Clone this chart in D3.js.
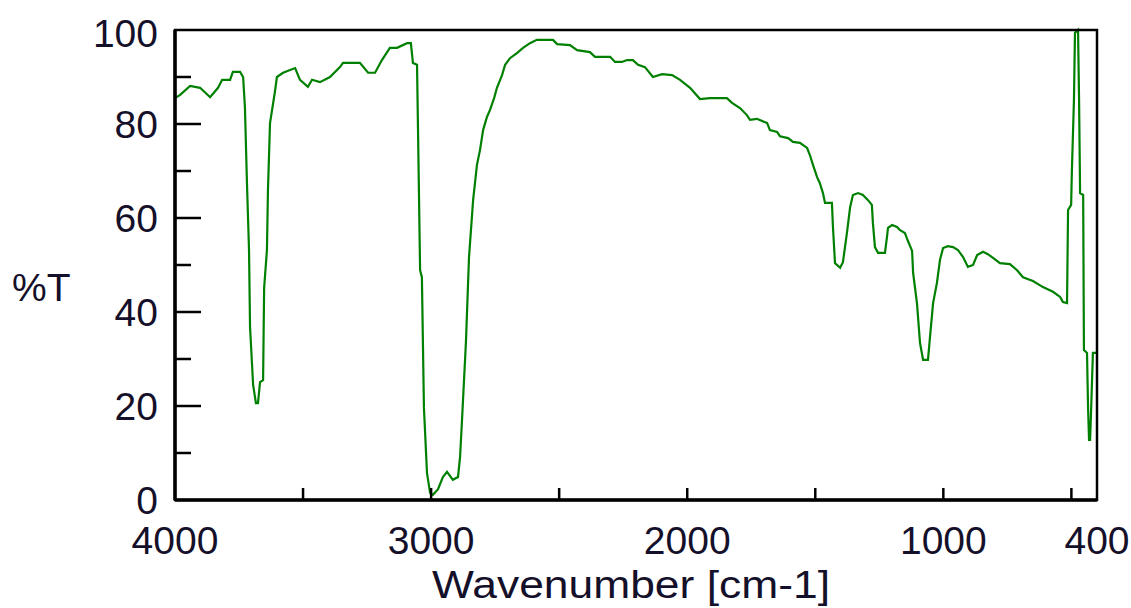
<!DOCTYPE html>
<html>
<head>
<meta charset="utf-8">
<script src="https://cdn.jsdelivr.net/npm/d3@7"></script>
<style>
  body { margin: 0; background: #fff; }
  svg { display: block; }
  text { font-family: "Liberation Sans", Arial, sans-serif; fill: #15102a; }
</style>
</head>
<body>
<svg id="chart" width="1131" height="608"></svg>
<script>
// IR spectrum
var wavenumber = [
  4000, 3980, 3941, 3902, 3863, 3832, 3816, 3785, 3774, 3746, 3734, 3727, 3719, 3711, 3707, 3695,
  3684, 3676, 3668, 3656, 3652, 3641, 3637, 3629, 3610, 3602, 3578, 3531, 3512, 3481, 3465, 3434,
  3395, 3356, 3344, 3278, 3246, 3219, 3192, 3161, 3133, 3094, 3079, 3071, 3055, 3051, 3043, 3036,
  3028, 3016, 3004, 2993, 2973, 2954, 2938, 2915, 2895, 2887, 2879, 2864, 2852, 2836, 2821, 2809,
  2797, 2782, 2770, 2754, 2743, 2723, 2711, 2692, 2665, 2641, 2614, 2587, 2524, 2508, 2458, 2430,
  2380, 2360, 2301, 2282, 2255, 2235, 2212, 2192, 2165, 2134, 2098, 2059, 2028, 1989, 1950, 1911,
  1845, 1825, 1794, 1767, 1755, 1728, 1688, 1677, 1649, 1638, 1606, 1587, 1560, 1532, 1521, 1509,
  1493, 1482, 1470, 1462, 1435, 1431, 1423, 1403, 1392, 1376, 1364, 1353, 1333, 1314, 1294, 1279,
  1275, 1267, 1255, 1228, 1220, 1216, 1200, 1181, 1169, 1150, 1138, 1122, 1118, 1103, 1091, 1079,
  1060, 1052, 1040, 1025, 1013, 1001, 982, 962, 943, 923, 904, 884, 868, 845, 826, 806,
  779, 740, 712, 689, 650, 611, 572, 544, 533, 517, 513, 501, 498, 490, 486, 474,
  470, 466, 454, 451, 439, 435, 431, 427, 423, 416, 400
]
var transmittance = [
  85.5, 86.2, 88.1, 87.7, 85.7, 87.7, 89.4, 89.4, 91.1, 91.1, 90.0, 83.6, 67.4, 53.2, 36.8, 24.5,
  20.6, 20.6, 25.1, 25.5, 45.1, 53.2, 66.0, 80.2, 86.8, 90.0, 90.9, 91.9, 89.4, 87.9, 89.4, 88.9,
  90.0, 92.1, 93.0, 93.0, 90.9, 90.9, 93.6, 96.2, 96.2, 97.2, 97.2, 93.0, 92.6, 78.3, 48.9, 47.4,
  19.6, 5.7, 1.5, 1.1, 2.3, 4.9, 6.0, 4.3, 4.9, 9.1, 17.4, 33.6, 51.7, 63.8, 71.3, 74.5,
  78.7, 81.5, 83.0, 85.5, 87.7, 90.4, 92.6, 94.0, 95.1, 96.2, 97.2, 97.9, 97.9, 97.0, 96.8, 95.7,
  95.3, 94.3, 94.3, 93.2, 93.2, 93.6, 93.6, 92.6, 92.1, 90.0, 90.6, 90.4, 89.4, 87.7, 85.3, 85.5,
  85.5, 84.5, 83.4, 81.9, 80.9, 81.1, 80.2, 78.7, 78.3, 77.4, 77.0, 76.2, 76.0, 74.9, 73.4, 71.3,
  68.7, 67.4, 65.3, 63.2, 63.2, 58.1, 50.4, 49.4, 50.6, 57.0, 62.3, 64.9, 65.3, 64.9, 63.8, 62.8,
  58.9, 53.8, 52.6, 52.6, 56.0, 57.9, 58.5, 58.1, 57.4, 56.8, 55.1, 53.0, 48.3, 41.9, 33.4, 29.8,
  29.8, 34.7, 41.9, 46.2, 51.1, 53.6, 54.0, 53.8, 53.2, 51.7, 49.6, 50.0, 52.1, 52.8, 52.3, 51.5,
  50.4, 50.2, 48.9, 47.4, 46.6, 45.3, 44.3, 43.2, 42.1, 41.9, 61.7, 62.8, 70.2, 85.1, 99.4, 100,
  85.1, 65.3, 64.9, 31.9, 31.3, 19.8, 12.8, 12.8, 19.1, 31.3, 31.3
]

var xTickLabels = [4000, 3000, 2000, 1000, 400]
var xMinorTicks = [3500, 3000, 2500, 2000, 1500, 1000, 500]
var yTickLabels = [0, 20, 40, 60, 80, 100]
var yMinorTicks = [10, 30, 50, 70, 90]

var plotLeft = 175, plotRight = 1097, plotTop = 30, plotBottom = 500

var svg = d3.select("#chart")

var x = d3.scaleLinear().domain([4000, 400]).range([plotLeft, plotRight])
var y = d3.scaleLinear().domain([0, 100]).range([plotBottom, plotTop])

var data = wavenumber.map((w, i) => ({ w: w, t: transmittance[i] }))

// spectrum line
var line = d3.line()
    .x(d => x(d.w))
    .y(d => y(d.t))

svg.append("path")
    .datum(data)
    .attr("d", line)
    .attr("fill", "none")
    .attr("stroke", "#008000")
    .attr("stroke-width", 2.2)
    .attr("stroke-linejoin", "miter")

// frame
svg.append("rect")
    .attr("x", plotLeft)
    .attr("y", plotTop)
    .attr("width", plotRight - plotLeft)
    .attr("height", plotBottom - plotTop)
    .attr("fill", "none")
    .attr("stroke", "#000")
    .attr("stroke-width", 2.5)

svg.append("line")
    .attr("x1", plotLeft).attr("x2", plotLeft)
    .attr("y1", plotTop).attr("y2", plotBottom)
    .attr("stroke", "#000").attr("stroke-width", 3.5)

svg.append("line")
    .attr("x1", plotLeft).attr("x2", plotRight)
    .attr("y1", plotBottom).attr("y2", plotBottom)
    .attr("stroke", "#000").attr("stroke-width", 3.5)

// x ticks, pointing inside
svg.selectAll(".xtick")
    .data(xMinorTicks)
    .enter().append("line")
    .attr("class", "xtick")
    .attr("x1", d => x(d)).attr("x2", d => x(d))
    .attr("y1", plotBottom).attr("y2", plotBottom - 12)
    .attr("stroke", "#000").attr("stroke-width", 2.5)

svg.selectAll(".xlabel")
    .data(xTickLabels)
    .enter().append("text")
    .attr("class", "xlabel")
    .attr("x", d => x(d))
    .attr("y", 554)
    .attr("text-anchor", "middle")
    .style("font-size", "39px")
    .text(d => d)

// y ticks: long on labelled values, short in between
svg.selectAll(".ytick")
    .data(yTickLabels.slice(1, -1))
    .enter().append("line")
    .attr("class", "ytick")
    .attr("x1", plotLeft).attr("x2", plotLeft + 26)
    .attr("y1", d => y(d)).attr("y2", d => y(d))
    .attr("stroke", "#000").attr("stroke-width", 2.5)

svg.selectAll(".yminor")
    .data(yMinorTicks)
    .enter().append("line")
    .attr("class", "yminor")
    .attr("x1", plotLeft).attr("x2", plotLeft + 16)
    .attr("y1", d => y(d)).attr("y2", d => y(d))
    .attr("stroke", "#000").attr("stroke-width", 2.5)

svg.selectAll(".ylabel")
    .data(yTickLabels)
    .enter().append("text")
    .attr("class", "ylabel")
    .attr("x", 158)
    .attr("y", d => y(d) + (d == 100 ? 17 : 14))
    .attr("text-anchor", "end")
    .style("font-size", "39px")
    .text(d => d)

// axis titles
svg.append("text")
    .attr("x", 631)
    .attr("y", 598)
    .attr("text-anchor", "middle")
    .attr("textLength", 398)
    .attr("lengthAdjust", "spacingAndGlyphs")
    .style("font-size", "38px")
    .text("Wavenumber [cm-1]")

svg.append("text")
    .attr("x", 12)
    .attr("y", 301)
    .style("font-size", "39px")
    .text("%T")
</script>
</body>
</html>
